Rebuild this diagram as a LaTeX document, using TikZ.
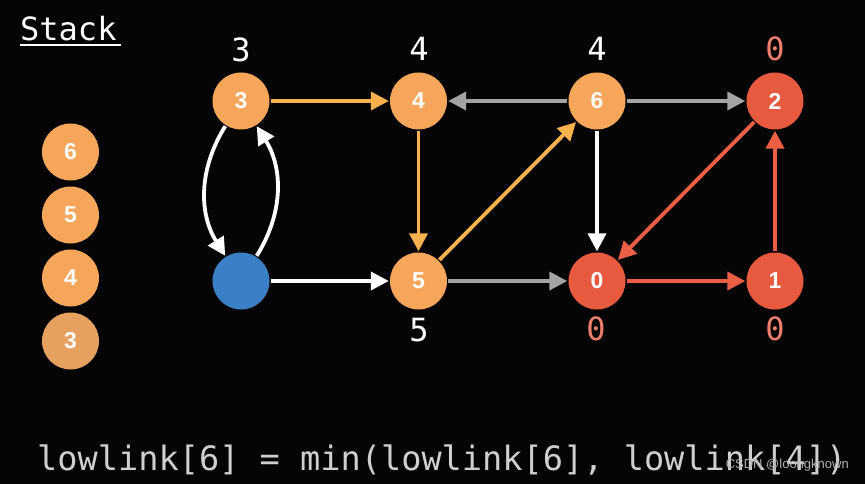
\documentclass[tikz,border=0pt]{standalone}
\usepackage{fontspec}
\setmainfont{Liberation Sans}
\newfontfamily\monofnt{DejaVu Sans Mono}
\usetikzlibrary{arrows.meta}
\definecolor{bg}{HTML}{060505}
\definecolor{orn}{HTML}{F5A65A}
\definecolor{ornd}{HTML}{E6A160}
\definecolor{orne}{HTML}{F9B24E}
\definecolor{rednode}{HTML}{E85A40}
\definecolor{rede}{HTML}{EC5F45}
\definecolor{graye}{HTML}{A3A3A3}
\definecolor{bluen}{HTML}{3B80C6}
\definecolor{salmon}{HTML}{EE7F6E}
\definecolor{txtgray}{HTML}{CFCFCF}
\tikzset{
  vtx/.style={circle, minimum size=57pt, inner sep=0pt, text=white, font=\fontsize{23}{23}\selectfont\bfseries},
  ov/.style={vtx, fill=orn},
  rv/.style={vtx, fill=rednode},
  bv/.style={vtx, fill=bluen},
  lbl/.style={font=\monofnt\fontsize{32}{32}\selectfont, text=white, inner sep=0pt},
  rlbl/.style={lbl, text=salmon},
  edge/.style={line width=3.8pt, -{Triangle[length=18pt,width=18pt]}, shorten >=1pt, shorten <=1pt},
  oe/.style={edge, draw=orne},
  ge/.style={edge, draw=graye},
  we/.style={edge, draw=white},
  re/.style={edge, draw=rede},
}
\begin{document}
\begin{tikzpicture}[x=1pt,y=-1pt]
\fill[bg] (0,0) rectangle (865,484);
\useasboundingbox (0,0) rectangle (865,484);
% title
\node[font=\monofnt\fontsize{32}{32}\selectfont, text=white, inner sep=0pt, anchor=base west] (title) at (20,41) {Stack};
\draw[white, line width=2pt] (20,45) -- (121,45);
% stack
\node[ov] (s6) at (70.5,152) {6};
\node[ov] (s5) at (70.5,215) {5};
\node[ov] (s4) at (70.5,278) {4};
\node[vtx, fill=ornd] (s3) at (70.5,341) {3};
% graph nodes
\node[ov] (n3) at (241,101) {3};
\node[ov] (n4) at (418.5,101) {4};
\node[ov] (n6) at (597,101) {6};
\node[rv] (n2) at (775,101) {2};
\node[bv] (nb) at (241,281) {};
\node[ov] (n5) at (418.5,281) {5};
\node[rv] (n0) at (597,281) {0};
\node[rv] (n1) at (775,281) {1};
% labels
\node[lbl] (l3) at (241,50) {3};
\node[lbl] (l4) at (419,49) {4};
\node[lbl] (l6) at (597,49) {4};
\node[rlbl] (l2) at (775,49) {0};
\node[lbl] (l5) at (419,330) {5};
\node[rlbl] (l0) at (596,329) {0};
\node[rlbl] (l1) at (775,329) {0};
% edges
\draw[oe] (n3) -- (n4);
\draw[ge] (n6) -- (n4);
\draw[ge] (n6) -- (n2);
\draw[oe] (n4) -- (n5);
\draw[oe] (n5) -- (n6);
\draw[we] (n6) -- (n0);
\draw[re] (n2) -- (n0);
\draw[re] (n0) -- (n1);
\draw[re] (n1) -- (n2);
\draw[we] (nb) -- (n5);
\draw[ge] (n5) -- (n0);
\draw[we] (n3) to[bend right=32] (nb);
\draw[we] (nb) to[bend right=32] (n3);
% formula
\node[font=\monofnt\fontsize{33.6}{33.6}\selectfont, text=txtgray, inner sep=0pt, anchor=base west] (formula) at (37,470) {lowlink[6] = min(lowlink[6], lowlink[4])};
\node[font=\fontsize{13}{13}\selectfont, text=txtgray!85!black, inner sep=0pt, anchor=east] (wm) at (849,465) {CSDN @loongknown};
\end{tikzpicture}
\end{document}
